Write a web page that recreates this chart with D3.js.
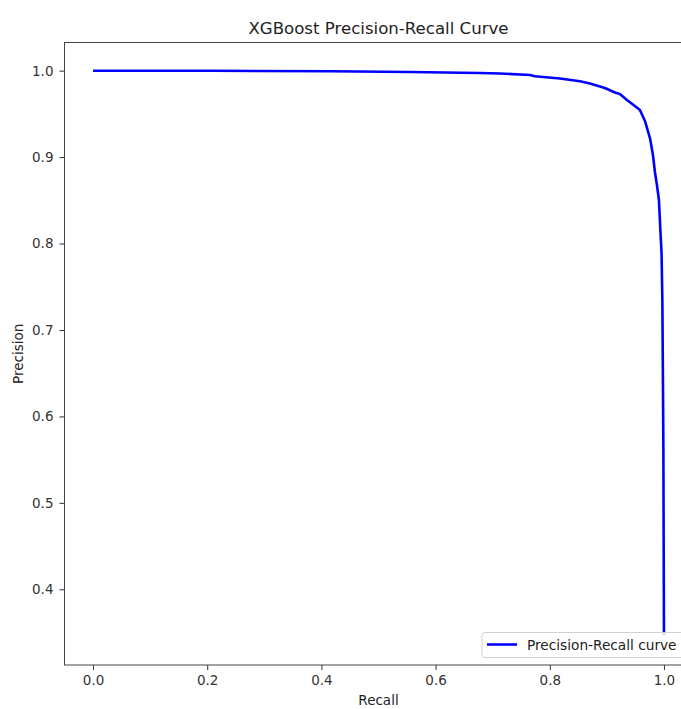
<!DOCTYPE html>
<html>
<head>
<meta charset="utf-8">
<script src="https://cdn.jsdelivr.net/npm/d3@7"></script>
<style>
  html, body { margin: 0; padding: 0; background: #fff; overflow: hidden; }
  svg { display: block; font-family: "DejaVu Sans", sans-serif; }
</style>
</head>
<body>
<svg id="chart" width="681" height="709"></svg>
<script>
// ---- data ----
const recall = [0.000, 0.208, 0.285, 0.415, 0.555, 0.678, 0.7127, 0.7652, 0.7740, 0.8177, 0.8528, 0.8703, 0.8966, 0.9141, 0.9228, 0.9351, 0.9491, 0.9579, 0.9667, 0.9755, 0.9807, 0.9842, 0.9877, 0.9912, 0.9937, 0.9958, 0.9972, 0.9981, 0.9990, 1.000];
const precision = [1.000, 1.000, 0.9997, 0.9993, 0.9985, 0.9973, 0.9968, 0.9950, 0.9935, 0.9910, 0.9877, 0.9852, 0.9800, 0.9748, 0.9730, 0.9661, 0.9592, 0.9545, 0.9418, 0.9221, 0.9025, 0.8828, 0.8678, 0.8504, 0.8157, 0.7891, 0.7347, 0.6537, 0.5611, 0.347];
const xTicks = [0.0, 0.2, 0.4, 0.6, 0.8, 1.0];
const yTicks = [0.4, 0.5, 0.6, 0.7, 0.8, 0.9, 1.0];
const titleText = "XGBoost Precision-Recall Curve";
const xLabelText = "Recall";
const yLabelText = "Precision";
const legendText = "Precision-Recall curve";

// ---- layout ----
const pLeft = 64.5, pRight = 692.5, pTop = 42.5, pBottom = 665;
const svg = d3.select("#chart");

const x = d3.scaleLinear().domain([-0.05, 1.05]).range([pLeft, pRight]);
const y = d3.scaleLinear().domain([0.3124, 1.0326]).range([pBottom, pTop]);

svg.append("defs").append("clipPath").attr("id", "clip")
  .append("rect").attr("x", pLeft).attr("y", pTop).attr("width", pRight - pLeft).attr("height", pBottom - pTop);

// curve
const pts = recall.map((r, i) => [r, precision[i]]);
svg.append("path")
  .datum(pts)
  .attr("clip-path", "url(#clip)")
  .attr("fill", "none")
  .attr("stroke", "#0000ff")
  .attr("stroke-width", 2.6)
  .attr("stroke-linejoin", "round")
  .attr("d", d3.line().x(d => x(d[0])).y(d => y(d[1])));

// axes
const xAxis = d3.axisBottom(x).tickValues(xTicks).tickFormat(d3.format(".1f")).tickSize(5).tickPadding(5);
const yAxis = d3.axisLeft(y).tickValues(yTicks).tickFormat(d3.format(".1f")).tickSize(5).tickPadding(6);

const gx = svg.append("g").attr("transform", `translate(0,${pBottom})`).call(xAxis);
const gy = svg.append("g").attr("transform", `translate(${pLeft},0)`).call(yAxis);
[gx, gy].forEach(g => {
  g.select(".domain").remove();
  g.selectAll(".tick line").attr("stroke", "#333").attr("stroke-width", 1);
  g.selectAll(".tick text").attr("fill", "#333").style("font-size", "13.5px").style("font-family", "DejaVu Sans, sans-serif");
});

// frame
svg.append("rect")
  .attr("x", pLeft).attr("y", pTop)
  .attr("width", pRight - pLeft).attr("height", pBottom - pTop)
  .attr("fill", "none").attr("stroke", "#444").attr("stroke-width", 1);

// title & labels
svg.append("text")
  .attr("x", (pLeft + pRight) / 2).attr("y", 34)
  .attr("text-anchor", "middle")
  .attr("fill", "#222")
  .style("font-size", "16.6px")
  .text(titleText);

svg.append("text")
  .attr("x", (pLeft + pRight) / 2).attr("y", 705)
  .attr("text-anchor", "middle")
  .attr("fill", "#222")
  .style("font-size", "13.5px")
  .text(xLabelText);

svg.append("text")
  .attr("transform", `translate(23,${(pTop + pBottom) / 2}) rotate(-90)`)
  .attr("text-anchor", "middle")
  .attr("fill", "#222")
  .style("font-size", "13.5px")
  .text(yLabelText);

// legend (lower right)
const lg = svg.append("g");
lg.append("rect")
  .attr("x", 482).attr("y", 632.5)
  .attr("width", 206).attr("height", 25)
  .attr("rx", 3).attr("ry", 3)
  .attr("fill", "#fff").attr("fill-opacity", 0.8)
  .attr("stroke", "#d0d0d0").attr("stroke-width", 1);
lg.append("line")
  .attr("x1", 487).attr("x2", 517)
  .attr("y1", 644.5).attr("y2", 644.5)
  .attr("stroke", "#0000ff").attr("stroke-width", 2.6);
lg.append("text")
  .attr("x", 527).attr("y", 649.5)
  .attr("fill", "#222")
  .style("font-size", "13.7px")
  .text(legendText);
</script>
</body>
</html>
